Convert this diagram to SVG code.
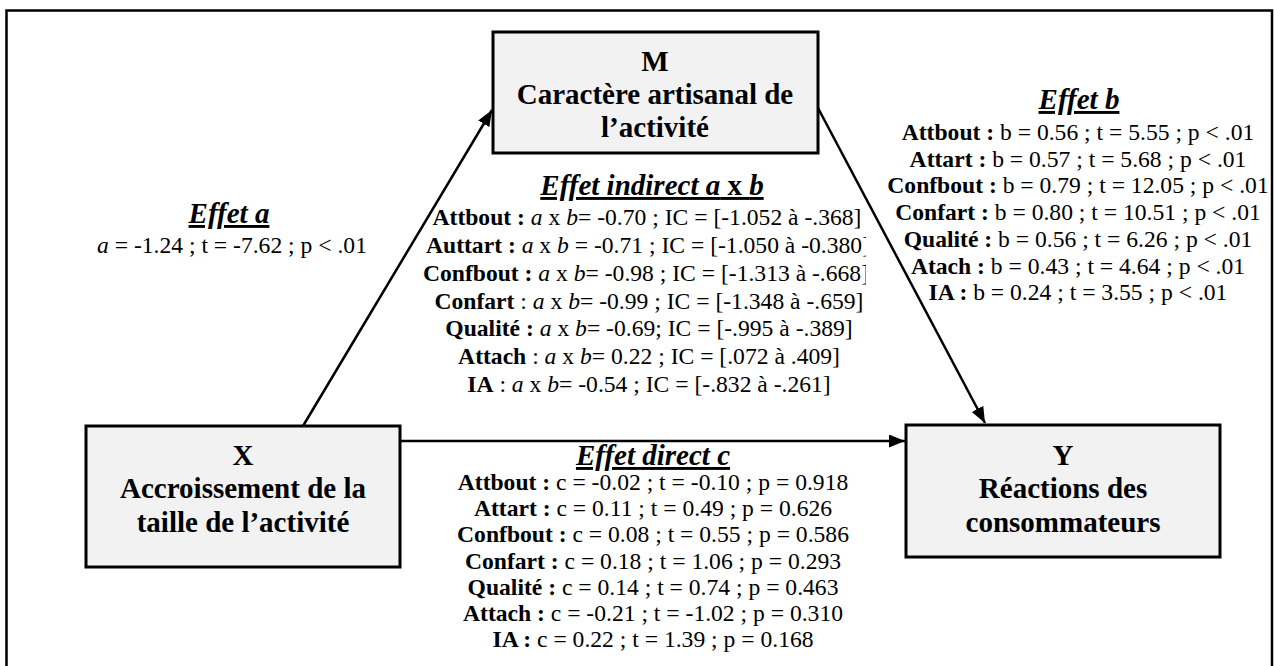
<svg xmlns="http://www.w3.org/2000/svg" width="1274" height="666" viewBox="0 0 1274 666">
<style>
text{font-family:'Liberation Serif',serif;fill:#000;}
.box{fill:#f2f2f2;stroke:#000;stroke-width:3;}
.bt{font-size:29px;font-weight:700;text-anchor:middle;}
.ttl{font-size:29px;font-weight:700;font-style:italic;text-decoration:underline;text-anchor:middle;}
.ln{font-size:23.6px;text-anchor:middle;}
.b{font-weight:700;}
.i{font-style:italic;}
.n{font-style:normal;}
.conn{stroke:#000;stroke-width:2.5;fill:none;marker-end:url(#ah);}
</style>
<defs>
<marker id="ah" markerUnits="userSpaceOnUse" markerWidth="17" markerHeight="14" refX="16" refY="6.5" orient="auto">
<path d="M0,0 L16,6.5 L0,13 z" fill="#000"/>
</marker>
<clipPath id="clipInd"><rect x="418" y="170" width="448" height="240"/></clipPath>
</defs>
<rect x="6.5" y="10.5" width="1265.5" height="720" fill="none" stroke="#000" stroke-width="2.5"/>
<g id="connectors">
<line class="conn" x1="303" y1="426" x2="492" y2="110"/>
<line class="conn" x1="818" y1="108" x2="985" y2="423"/>
<line class="conn" x1="400" y1="441" x2="905" y2="441"/>
</g>
<g id="node-M">
<rect class="box" x="493" y="32" width="325" height="121"/>
<text class="bt" x="655" y="71">M</text>
<text class="bt" x="655" y="104">Caractère artisanal de</text>
<text class="bt" x="655" y="137">l’activité</text>
</g>
<g id="node-X">
<rect class="box" x="86" y="426" width="314" height="141"/>
<text class="bt" x="243" y="465">X</text>
<text class="bt" x="243" y="498">Accroissement de la</text>
<text class="bt" x="243" y="532">taille de l’activité</text>
</g>
<g id="node-Y">
<rect class="box" x="906" y="425" width="314" height="132"/>
<text class="bt" x="1063" y="465">Y</text>
<text class="bt" x="1063" y="498">Réactions des</text>
<text class="bt" x="1063" y="532">consommateurs</text>
</g>
<g id="label-a">
<text class="ttl" x="229" y="223">Effet a</text>
<text class="ln" x="232" y="253"><tspan class="i">a</tspan> = -1.24 ; t = -7.62 ; p &lt; .01</text>
</g>
<g id="label-b">
<text class="ttl" x="1079" y="109">Effet b</text>
<text class="ln" x="1078" y="140"><tspan class="b">Attbout :</tspan> b = 0.56 ; t = 5.55 ; p &lt; .01</text>
<text class="ln" x="1078" y="166.7"><tspan class="b">Attart :</tspan> b = 0.57 ; t = 5.68 ; p &lt; .01</text>
<text class="ln" x="1078" y="193.4"><tspan class="b">Confbout :</tspan> b = 0.79 ; t = 12.05 ; p &lt; .01</text>
<text class="ln" x="1078" y="220"><tspan class="b">Confart :</tspan> b = 0.80 ; t = 10.51 ; p &lt; .01</text>
<text class="ln" x="1078" y="246.8"><tspan class="b">Qualité :</tspan> b = 0.56 ; t = 6.26 ; p &lt; .01</text>
<text class="ln" x="1078" y="273.5"><tspan class="b">Atach :</tspan> b = 0.43 ; t = 4.64 ; p &lt; .01</text>
<text class="ln" x="1078" y="300"><tspan class="b">IA :</tspan> b = 0.24 ; t = 3.55 ; p &lt; .01</text>
</g>
<g id="label-indirect">
<text class="ttl" x="652" y="195">Effet indirect a<tspan class="n"> x </tspan>b</text>
<g clip-path="url(#clipInd)">
<text class="ln" x="647" y="225"><tspan class="b">Attbout :</tspan> <tspan class="i">a</tspan> x <tspan class="i">b</tspan>= -0.70 ; IC = [-1.052 à -.368]</text>
<text class="ln" x="648" y="252.8"><tspan class="b">Auttart :</tspan> <tspan class="i">a</tspan> x <tspan class="i">b</tspan> = -0.71 ; IC = [-1.050 à -0.380]</text>
<text class="ln" x="646" y="280.7"><tspan class="b">Confbout :</tspan> <tspan class="i">a</tspan> x <tspan class="i">b</tspan>= -0.98 ; IC = [-1.313 à -.668]</text>
<text class="ln" x="649" y="308.5"><tspan class="b">Confart</tspan> : <tspan class="i">a</tspan> x <tspan class="i">b</tspan>= -0.99 ; IC = [-1.348 à -.659]</text>
<text class="ln" x="649" y="336.3"><tspan class="b">Qualité :</tspan> <tspan class="i">a</tspan> x <tspan class="i">b</tspan>= -0.69; IC = [-.995 à -.389]</text>
<text class="ln" x="649" y="364.2"><tspan class="b">Attach</tspan> : <tspan class="i">a</tspan> x <tspan class="i">b</tspan>= 0.22 ; IC = [.072 à .409]</text>
<text class="ln" x="649" y="392"><tspan class="b">IA</tspan> : <tspan class="i">a</tspan> x <tspan class="i">b</tspan>= -0.54 ; IC = [-.832 à -.261]</text>
</g>
</g>
<g id="label-direct">
<text class="ttl" x="653" y="465">Effet direct c</text>
<text class="ln" x="653" y="490"><tspan class="b">Attbout :</tspan> c = -0.02 ; t = -0.10 ; p = 0.918</text>
<text class="ln" x="653" y="516.2"><tspan class="b">Attart :</tspan> c = 0.11 ; t = 0.49 ; p = 0.626</text>
<text class="ln" x="653" y="542.3"><tspan class="b">Confbout :</tspan> c = 0.08 ; t = 0.55 ; p = 0.586</text>
<text class="ln" x="653" y="568.5"><tspan class="b">Confart :</tspan> c = 0.18 ; t = 1.06 ; p = 0.293</text>
<text class="ln" x="653" y="594.7"><tspan class="b">Qualité :</tspan> c = 0.14 ; t = 0.74 ; p = 0.463</text>
<text class="ln" x="653" y="620.8"><tspan class="b">Attach :</tspan> c = -0.21 ; t = -1.02 ; p = 0.310</text>
<text class="ln" x="653" y="647"><tspan class="b">IA :</tspan> c = 0.22 ; t = 1.39 ; p = 0.168</text>
</g>
</svg>
